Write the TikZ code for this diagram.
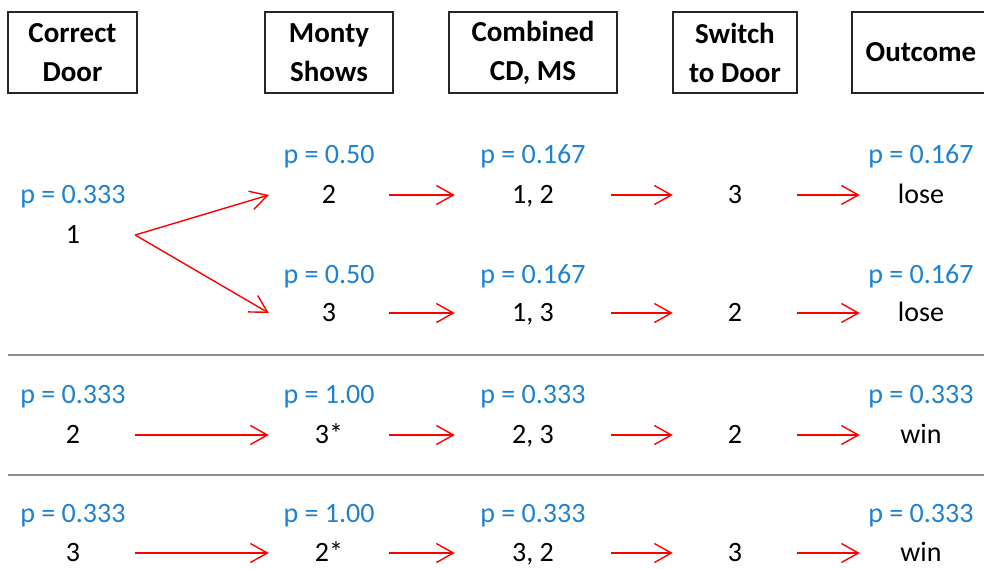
\documentclass[tikz,border=0pt]{standalone}
\usepackage{fontspec}
\setmainfont{Carlito}
\usetikzlibrary{arrows.meta}
\definecolor{probblue}{RGB}{30,130,210}

\begin{document}
\begin{tikzpicture}[x=1pt, y=-1pt, font=\fontsize{28}{39}\selectfont,
    cell/.style={inner sep=0pt, text height=17pt, text depth=0pt},
    prob/.style={cell, text=probblue},
    cdcol/.style={cell, minimum width=124pt},
    mscol/.style={cell, minimum width=120pt},
    cbcol/.style={cell, minimum width=156pt},
    swcol/.style={cell, minimum width=124pt},
    occol/.style={cell, minimum width=122pt},
    head/.style={draw=black!85, line width=1.5pt, inner sep=0pt, minimum height=81pt, align=center, font=\fontsize{29}{39}\selectfont\bfseries},
    arr/.style={draw=red, line width=1.4pt, -{Straight Barb[length=17pt, width=19pt]}},
    sep/.style={draw=black!45, line width=1.8pt}]
      \clip (0,0) rectangle (984,568);

      \node[head, minimum width=129pt] (h1) at (72.5,52.5) {Correct\\Door};
      \node[head, minimum width=128pt] (h2) at (329,52.5) {Monty\\Shows};
      \node[head, minimum width=168pt] (h3) at (533,52.5) {Combined\\CD, MS};
      \node[head, minimum width=124pt] (h4) at (735,52.5) {Switch\\to Door};
      \node[head, minimum width=138pt] (h5) at (921,52.5) {Outcome};

      \node[prob] (pc1) at (73,195) {p = 0.333};
      \node[cdcol] (c1) at (73,235) {1};
      \node[prob] (pm1) at (329,155) {p = 0.50};
      \node[mscol] (m1) at (329,195) {2};
      \node[prob] (pb1) at (533,155) {p = 0.167};
      \node[cbcol] (b1) at (533,195) {1, 2};
      \node[swcol] (s1) at (735,195) {3};
      \node[prob] (po1) at (921,155) {p = 0.167};
      \node[occol] (o1) at (921,195) {lose};

      \node[prob] (pm2) at (329,275) {p = 0.50};
      \node[mscol] (m2) at (329,313) {3};
      \node[prob] (pb2) at (533,275) {p = 0.167};
      \node[cbcol] (b2) at (533,313) {1, 3};
      \node[swcol] (s2) at (735,313) {2};
      \node[prob] (po2) at (921,275) {p = 0.167};
      \node[occol] (o2) at (921,313) {lose};

      \node[prob] (pc3) at (73,395) {p = 0.333};
      \node[cdcol] (c3) at (73,435) {2};
      \node[prob] (pm3) at (329,395) {p = 1.00};
      \node[mscol] (m3) at (329,435) {3*};
      \node[prob] (pb3) at (533,395) {p = 0.333};
      \node[cbcol] (b3) at (533,435) {2, 3};
      \node[swcol] (s3) at (735,435) {2};
      \node[prob] (po3) at (921,395) {p = 0.333};
      \node[occol] (o3) at (921,435) {win};

      \node[prob] (pc4) at (73,514) {p = 0.333};
      \node[cdcol] (c4) at (73,553) {3};
      \node[prob] (pm4) at (329,514) {p = 1.00};
      \node[mscol] (m4) at (329,553) {2*};
      \node[prob] (pb4) at (533,514) {p = 0.333};
      \node[cbcol] (b4) at (533,553) {3, 2};
      \node[swcol] (s4) at (735,553) {3};
      \node[prob] (po4) at (921,514) {p = 0.333};
      \node[occol] (o4) at (921,553) {win};

      \draw[arr] (c1.east) -- (m1.west);
      \draw[arr] (c1.east) -- (m2.west);
      \draw[arr] (c3.east) -- (m3.west);
      \draw[arr] (c4.east) -- (m4.west);
      \foreach \r in {1,2,3,4} {
        \draw[arr] (m\r.east) -- (b\r.west);
        \draw[arr] (b\r.east) -- (s\r.west);
        \draw[arr] (s\r.east) -- (o\r.west);
      }

      \draw[sep] (8,355) -- (984,355);
      \draw[sep] (8,475) -- (984,475);
    \end{tikzpicture}
\end{document}
